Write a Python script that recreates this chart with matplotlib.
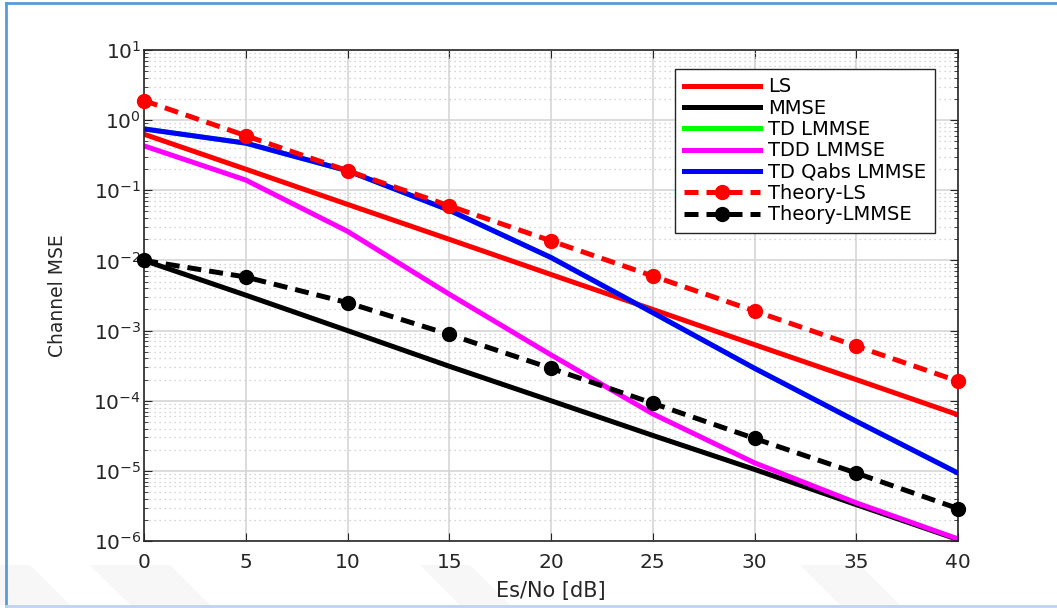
import numpy as np
import matplotlib.pyplot as plt
from matplotlib.lines import Line2D
from matplotlib.patches import Polygon
from matplotlib.ticker import LogLocator, NullFormatter

plt.rcParams['font.family'] = ['DejaVu Sans']

snr = [0, 5, 10, 15, 20, 25, 30, 35, 40]

ls = [0.63, 0.2, 0.063, 0.02, 0.0063, 0.002, 0.00063, 0.0002, 6.3e-5]
mmse = [1e-2, 3.2e-3, 1e-3, 3.1e-4, 1e-4, 3.2e-5, 1.05e-5, 3.3e-6, 1.05e-6]
td_lmmse = [0.75, 0.47, 0.19, 0.052, 0.011, 1.8e-3, 2.9e-4, 5.1e-5, 9.3e-6]
tdd_lmmse = [0.43, 0.14, 0.026, 3.3e-3, 4.5e-4, 6.5e-5, 1.3e-5, 3.5e-6, 1.07e-6]
td_qabs_lmmse = [0.75, 0.47, 0.19, 0.052, 0.011, 1.8e-3, 2.9e-4, 5.1e-5, 9.3e-6]
theory_ls = [1.9, 0.6, 0.19, 0.06, 0.019, 0.006, 0.0019, 0.0006, 0.00019]
theory_lmmse = [0.01, 5.8e-3, 2.5e-3, 8.8e-4, 2.9e-4, 9.2e-5, 2.9e-5, 9.3e-6, 2.9e-6]

W, H = 1057, 608
fig = plt.figure(figsize=(W / 100, H / 100), dpi=100)

# faint watermark stripes under the axes
for a, b in [(-40, 30), (90, 170), (420, 470), (800, 860)]:
    fig.add_artist(Polygon([(a / W, 1 - 565 / H), (b / W, 1 - 565 / H),
                            ((b + 40) / W, 1 - 605 / H), ((a + 40) / W, 1 - 605 / H)],
                           closed=True, color='#f7f7f7', lw=0,
                           transform=fig.transFigure, zorder=-5))

ax = fig.add_axes([144 / W, 67 / H, 814 / W, 491 / H])

lw = 3.6
ax.semilogy(snr, ls, color='#ff0000', lw=lw, label='LS')
ax.semilogy(snr, mmse, color='black', lw=lw, label='MMSE')
ax.semilogy(snr, td_lmmse, color='#00ff00', lw=lw, label='TD LMMSE')
ax.semilogy(snr, tdd_lmmse, color='#ff00ff', lw=lw, label='TDD LMMSE')
ax.semilogy(snr, td_qabs_lmmse, color='#0000ff', lw=lw, label='TD Qabs LMMSE')
ax.semilogy(snr, theory_ls, color='#ff0000', lw=lw, ls=(0, (2.8, 1.6)),
            marker='o', ms=10, label='Theory-LS', clip_on=False, zorder=5)
ax.semilogy(snr, theory_lmmse, color='black', lw=lw, ls=(0, (2.8, 1.6)),
            marker='o', ms=10, label='Theory-LMMSE', clip_on=False, zorder=5)

ax.set_xlim(0, 40)
ax.set_ylim(1e-6, 1e1)
ax.set_xticks(snr)
ax.yaxis.set_major_locator(LogLocator(base=10, numticks=20))
ax.yaxis.set_minor_locator(LogLocator(base=10, subs=np.arange(2, 10), numticks=20))
ax.yaxis.set_minor_formatter(NullFormatter())

ax.grid(True, which='major', color='#d6d6d6', lw=1.2)
ax.grid(True, which='minor', axis='y', color='#c8c8c8', lw=0.9, ls=(0, (1, 3)))
ax.set_axisbelow(True)

ax.tick_params(which='both', direction='in', top=True, right=True,
               colors='#262626', labelsize=14.5)
ax.tick_params(which='major', length=6)
ax.tick_params(which='minor', length=3)
ax.tick_params(axis='x', pad=9)
ax.tick_params(axis='y', pad=2)
for s in ax.spines.values():
    s.set_color('#262626')
    s.set_linewidth(1.2)

ax.set_xlabel('Es/No [dB]', fontsize=15, color='#262626', labelpad=6)
ax.set_ylabel('Channel MSE', fontsize=13.5, color='#262626')
ax.yaxis.set_label_coords(-0.095, 0.5)

leg = ax.legend(loc='upper right', bbox_to_anchor=(0.972, 0.962), fontsize=14,
                handlelength=3.9, handletextpad=0.45, labelspacing=0.12,
                borderpad=0.45, borderaxespad=0, fancybox=False, framealpha=1)
leg.get_frame().set_edgecolor('#262626')
leg.get_frame().set_linewidth(1.0)

# outer frame
fig.add_artist(Line2D([6 / W, 1], [1 - 3 / H, 1 - 3 / H], color='#5b9bd5', lw=2,
                      transform=fig.transFigure))
fig.add_artist(Line2D([6 / W, 6 / W], [2 / H, 1 - 3 / H], color='#5b9bd5', lw=2,
                      transform=fig.transFigure))
fig.add_artist(Line2D([6 / W, 1], [2 / H, 2 / H], color='#bcd4ec', lw=2,
                      transform=fig.transFigure))

fig.savefig('out.png', dpi=100)
